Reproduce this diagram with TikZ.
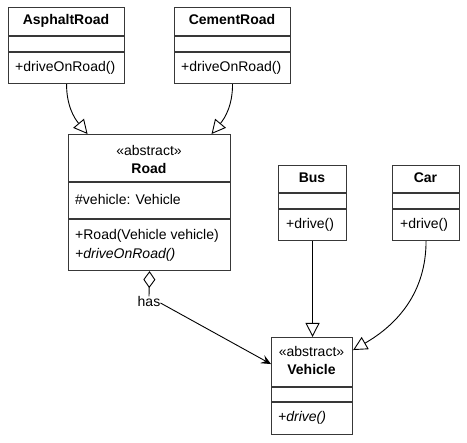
\documentclass[tikz,border=0pt]{standalone}
\usepackage{fontspec}
\setmainfont{Liberation Sans}
\usetikzlibrary{arrows.meta}
\definecolor{frame}{RGB}{56,56,56}

\begin{document}
\begin{tikzpicture}[x=1pt,y=-1pt,
    font=\fontsize{14}{17}\selectfont,
    cls/.style={draw=frame,line width=1.1pt,fill=white,anchor=north west,inner sep=0pt},
    sep/.style={draw=frame,line width=1.1pt},
    title/.style={font=\fontsize{14}{17}\selectfont\bfseries,inner sep=0pt,
                  text height=10pt,text depth=3pt},
    stereo/.style={inner sep=0pt,text height=10pt,text depth=3pt},
    member/.style={anchor=west,inner sep=0pt,text height=10pt,text depth=3pt},
    gen/.style={-{Triangle[open,length=14pt,width=14pt]},line width=0.9pt},
    aggr/.style={{Diamond[open,length=17pt,width=12pt]}-,line width=0.9pt},
    assoc/.style={-{Stealth[length=10pt,width=9pt,inset=4pt]},line width=0.9pt}]
    \useasboundingbox (0,0) rectangle (467,443);

    % AsphaltRoad
    \node[cls,minimum width=116pt,minimum height=76pt] (asphalt) at (8,7) {};
    \node[title] (asphalt-name) at (66,21.5) {AsphaltRoad};
    \draw[sep] (8,36) -- (124,36);
    \draw[sep] (8,52) -- (124,52);
    \node[member] (asphalt-op) at (15,68) {+driveOnRoad()};

    % CementRoad
    \node[cls,minimum width=116pt,minimum height=76pt] (cement) at (174,7) {};
    \node[title] (cement-name) at (232,21.5) {CementRoad};
    \draw[sep] (174,36) -- (290,36);
    \draw[sep] (174,52) -- (290,52);
    \node[member] (cement-op) at (181,68) {+driveOnRoad()};

    % Road
    \node[cls,minimum width=162pt,minimum height=136pt] (road) at (68,134) {};
    \node[stereo] (road-st) at (149,152) {«abstract»};
    \node[title] (road-name) at (149,170) {Road};
    \draw[sep] (68,182) -- (230,182);
    \node[member] (road-attr) at (75,201) {\#vehicle: Vehicle};
    \draw[sep] (68,219) -- (230,219);
    \node[member] (road-op1) at (75,236) {+Road(Vehicle vehicle)};
    \node[member,font=\fontsize{14}{17}\selectfont\itshape] (road-op2) at (75,255) {+driveOnRoad()};

    % Bus
    \node[cls,minimum width=68pt,minimum height=75pt] (bus) at (278,165) {};
    \node[title] (bus-name) at (312,179) {Bus};
    \draw[sep] (278,193) -- (346,193);
    \draw[sep] (278,209) -- (346,209);
    \node[member] (bus-op) at (286,225) {+drive()};

    % Car
    \node[cls,minimum width=67pt,minimum height=75pt] (car) at (392,165) {};
    \node[title] (car-name) at (425.5,179) {Car};
    \draw[sep] (392,193) -- (459,193);
    \draw[sep] (392,209) -- (459,209);
    \node[member] (car-op) at (400,225) {+drive()};

    % Vehicle
    \node[cls,minimum width=81pt,minimum height=97pt] (vehicle) at (271,337) {};
    \node[stereo] (vehicle-st) at (311.5,353) {«abstract»};
    \node[title] (vehicle-name) at (311.5,371) {Vehicle};
    \draw[sep] (271,387) -- (352,387);
    \draw[sep] (271,402) -- (352,402);
    \node[member,font=\fontsize{14}{17}\selectfont\itshape] (vehicle-op) at (278,418) {+drive()};

    % inheritance
    \draw[gen] (asphalt.south) to[out=-90,in=130] ([xshift=-62pt]road.north);
    \draw[gen] (cement.south) to[out=-90,in=50] ([xshift=62pt]road.north);
    \draw[gen] (bus.south) -- (bus.south |- vehicle.north);
    \draw[gen] (car.south) to[out=-90,in=30] ([yshift=36pt]vehicle.east);

    % aggregation
    \node[stereo] (has) at (149,303) {has};
    \draw[aggr] (road.south) -- (has.north);
    \draw[assoc] (has.east) -- ([yshift=22pt]vehicle.west);
\end{tikzpicture}
\end{document}
